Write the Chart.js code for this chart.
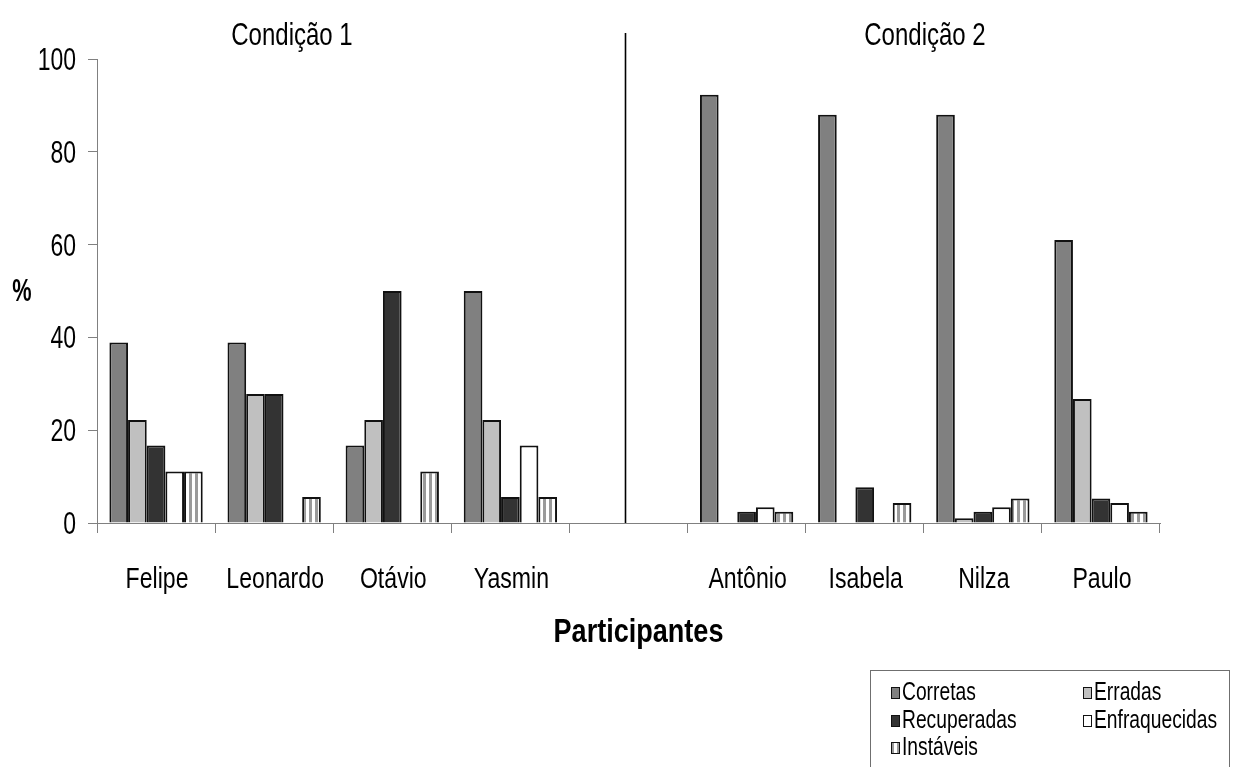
<!DOCTYPE html>
<html>
<head>
<meta charset="utf-8">
<script src="https://cdn.jsdelivr.net/npm/chart.js@4.4.1/dist/chart.umd.min.js"></script>
<style>
  html, body { margin: 0; padding: 0; background: #ffffff; }
  #wrap { width: 1233px; height: 767px; position: relative; }
</style>
</head>
<body>
<div id="wrap"><canvas id="chart" width="1233" height="767"></canvas></div>
<script>
// Participants (the empty slot separates the two conditions)
const categories = ['Felipe', 'Leonardo', 'Otávio', 'Yasmin', '', 'Antônio', 'Isabela', 'Nilza', 'Paulo'];

// Percentage of answers per type
const corretas      = [38.9, 38.9, 16.7, 50.0, null, 92.3, 88.0, 88.0, 61.0];
const erradas       = [22.2, 27.8, 22.2, 22.2, null, 0,    0,    1.0,  26.7];
const recuperadas   = [16.7, 27.8, 50.0, 5.6,  null, 2.4,  7.7,  2.4,  5.3];
const enfraquecidas = [11.1, 0,    0,    16.7, null, 3.4,  0,    3.4,  4.3];
const instaveis     = [11.1, 5.6,  11.1, 5.6,  null, 2.4,  4.3,  5.3,  2.4];

const seriesNames = ['Corretas', 'Erradas', 'Recuperadas', 'Enfraquecidas', 'Instáveis'];
const yTicks = [0, 20, 40, 60, 80, 100];
const conditionTitles = ['Condição 1', 'Condição 2'];
const xTitle = 'Participantes';
const yTitle = '%';

const FAMILY = '"Liberation Sans", Arial, sans-serif';

// Vertical stripe fill for "Instáveis"
function stripePattern() {
  const p = document.createElement('canvas');
  p.width = 6; p.height = 6;
  const g = p.getContext('2d');
  g.fillStyle = '#ffffff';
  g.fillRect(0, 0, 6, 6);
  g.fillStyle = '#9a9a9a';
  g.fillRect(3, 0, 3, 6);
  return document.getElementById('chart').getContext('2d').createPattern(p, 'repeat');
}
const stripes = stripePattern();
const fills = ['#808080', '#c0c0c0', '#333333', '#ffffff', stripes];
const values = [corretas, erradas, recuperadas, enfraquecidas, instaveis];

const datasets = seriesNames.map((name, i) => ({
  label: name,
  data: values[i],
  backgroundColor: fills[i],
  borderColor: '#111111',
  borderWidth: 2,
  categoryPercentage: 0.79,
  barPercentage: 1.0
}));

// Condensed text: draw with a horizontal squeeze
function narrowText(ctx, text, x, y, font, align, sx) {
  ctx.save();
  ctx.translate(x, y);
  ctx.scale(sx, 1);
  ctx.font = font;
  ctx.textAlign = align;
  ctx.textBaseline = 'alphabetic';
  ctx.fillStyle = '#000000';
  ctx.fillText(text, 0, 0);
  ctx.restore();
}

// Tick labels, titles, divider, axis captions and the boxed legend
const decorations = {
  id: 'decorations',
  afterDraw(chart) {
    const ctx = chart.ctx;
    const x = chart.scales.x;
    const y = chart.scales.y;
    const area = chart.chartArea;
    ctx.save();

    // y tick labels
    y.ticks.forEach(t => {
      narrowText(ctx, String(t.value), area.left - 21, y.getPixelForValue(t.value) + 11,
        '31px ' + FAMILY, 'right', 0.74);
    });
    // x tick labels
    categories.forEach((c, i) => {
      if (c) narrowText(ctx, c, x.getPixelForValue(i) + 1, area.bottom + 65,
        '30px ' + FAMILY, 'center', 0.77);
    });

    // divider between the conditions
    const midX = Math.round(x.getPixelForValue(4)) - 3.5;
    ctx.strokeStyle = '#000000';
    ctx.lineWidth = 1.6;
    ctx.beginPath();
    ctx.moveTo(midX, 33);
    ctx.lineTo(midX, area.bottom);
    ctx.stroke();

    // condition headings
    narrowText(ctx, conditionTitles[0], 292, 45, '32px ' + FAMILY, 'center', 0.75);
    narrowText(ctx, conditionTitles[1], 925, 45, '32px ' + FAMILY, 'center', 0.75);

    // axis captions
    narrowText(ctx, xTitle, (area.left + area.right) / 2 + 10, 642, 'bold 33px ' + FAMILY, 'center', 0.82);
    narrowText(ctx, yTitle, 22, 301, 'bold 31px ' + FAMILY, 'center', 0.7);

    // legend
    ctx.strokeStyle = '#6f6f6f';
    ctx.lineWidth = 1;
    ctx.strokeRect(870.5, 670.5, 359, 110);
    const cols = [891, 1083];
    const rows = [700, 728, 755];
    chart.data.datasets.forEach((ds, i) => {
      const cx = cols[i % 2];
      const by = rows[Math.floor(i / 2)];
      ctx.fillStyle = ds.backgroundColor;
      ctx.fillRect(cx, by - 13, 9, 12);
      ctx.strokeStyle = '#111111';
      ctx.lineWidth = 1;
      ctx.strokeRect(cx + 0.5, by - 12.5, 8, 11);
      narrowText(ctx, ds.label, cx + 11, by, '25px ' + FAMILY, 'left', 0.77);
    });
    ctx.restore();
  }
};

new Chart(document.getElementById('chart'), {
  type: 'bar',
  data: { labels: categories, datasets },
  options: {
    responsive: false,
    animation: false,
    layout: { padding: { top: 59, right: 73, left: 0, bottom: 0 } },
    plugins: {
      legend: { display: false },
      tooltip: { enabled: false }
    },
    scales: {
      x: {
        offset: true,
        grid: {
          offset: true,
          drawOnChartArea: false,
          drawTicks: true,
          tickLength: 10,
          color: '#808080',
          lineWidth: 1
        },
        border: { color: '#808080', width: 1 },
        ticks: { display: false, autoSkip: false },
        afterFit(scale) { scale.height = 767 - 523; }
      },
      y: {
        min: 0,
        max: 100,
        afterBuildTicks(scale) { scale.ticks = yTicks.map(v => ({ value: v })); },
        grid: {
          drawOnChartArea: false,
          drawTicks: true,
          tickLength: 9,
          color: '#808080',
          lineWidth: 1
        },
        border: { color: '#808080', width: 1 },
        ticks: { display: false },
        afterFit(scale) { scale.width = 97; }
      }
    }
  },
  plugins: [decorations]
});
</script>
</body>
</html>
